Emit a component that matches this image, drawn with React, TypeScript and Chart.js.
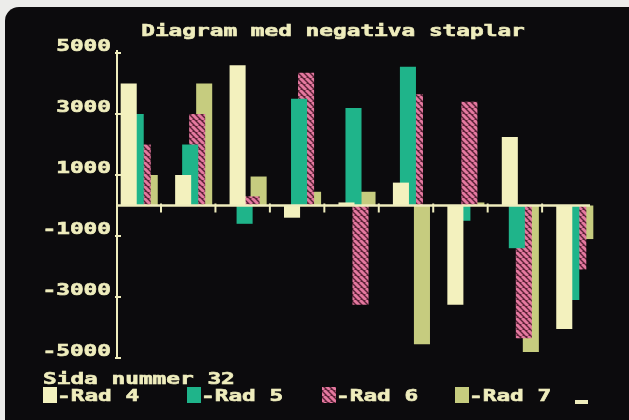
import { useEffect, useRef } from "react"
import { Chart, registerables } from "chart.js"

Chart.register(...registerables)

// data
const categories = ["1", "2", "3", "4", "5", "6", "7", "8", "9"]
const seriesNames = ["Rad 4", "Rad 5", "Rad 6", "Rad 7"]
const rad4 = [4000, 1000, 4600, -400, 100, 750, -3250, 2250, -4050]
const rad5 = [3000, 2000, -600, 3500, 3200, 4550, -500, -1400, -3100]
const rad6 = [2000, 3000, 300, 4350, -3250, 3650, 3400, -4350, -2100]
const rad7 = [1000, 4000, 950, 450, 450, -4550, 100, -4800, -1100]
const yMin = -5000
const yMax = 5000
const yStep = 2000

const titleText = "Diagram med negativa staplar"
const pageText = "Sida nummer 32"

const INK = "#efedbd"
const SCREEN = "#0c0b0d"
const FONT = "bold 16px 'DejaVu Sans Mono'"
const CHAR_W = 13.7
const LEGEND_X = [43, 187, 322, 455]

// wide CGA-like text: stretch a monospace font horizontally
function drawText(ctx: CanvasRenderingContext2D, text: string, x: number, y: number, align: "left" | "center" | "right") {
  ctx.save()
  ctx.font = FONT
  ctx.textAlign = "left"
  ctx.textBaseline = "alphabetic"
  const sx = CHAR_W / ctx.measureText("0").width
  const w = text.length * CHAR_W
  const left = align === "left" ? x : align === "center" ? x - w / 2 : x - w
  ctx.translate(left, y)
  ctx.scale(sx, 1)
  ctx.fillStyle = INK
  ctx.strokeStyle = INK
  ctx.lineWidth = 0.6
  ctx.fillText(text, 0, 0)
  ctx.strokeText(text, 0, 0)
  ctx.restore()
}

function makeHatch() {
  const c = document.createElement("canvas")
  c.width = 6
  c.height = 6
  const g = c.getContext("2d")!
  g.fillStyle = "#5a2236"
  g.fillRect(0, 0, 6, 6)
  g.strokeStyle = "#e4789f"
  g.lineWidth = 2.9
  for (const o of [-6, 0, 6]) {
    g.beginPath()
    g.moveTo(o, 0)
    g.lineTo(o + 6, 6)
    g.stroke()
  }
  return g.createPattern(c, "repeat")!
}

const screenPlugin = {
  id: "screen",
  beforeDraw(chart: Chart) {
    const { ctx, width, height } = chart
    ctx.save()
    ctx.fillStyle = "#ececea"
    ctx.fillRect(0, 0, width, height)
    ctx.fillStyle = SCREEN
    ctx.beginPath()
    ctx.roundRect(5, 7, width + 20, height + 20, 14)
    ctx.fill()
    ctx.restore()
  },
  afterDatasetsDraw(chart: Chart) {
    const { ctx, chartArea } = chart
    const x = chart.scales.x
    const y = chart.scales.y
    const axisX = chartArea.left + 5
    const zeroY = y.getPixelForValue(0)
    const pitch = x.getPixelForValue(1) - x.getPixelForValue(0)
    const last = categories.length - 1

    ctx.save()
    ctx.strokeStyle = INK
    ctx.fillStyle = INK

    // y axis
    ctx.lineWidth = 2
    ctx.beginPath()
    ctx.moveTo(axisX, y.top - 3)
    ctx.lineTo(axisX, y.bottom)
    ctx.stroke()

    // zero line with category marks
    ctx.lineWidth = 2.5
    ctx.beginPath()
    ctx.moveTo(axisX, zeroY)
    ctx.lineTo(x.getPixelForValue(last) + pitch * 0.28, zeroY)
    ctx.stroke()
    ctx.lineWidth = 2
    for (let i = 0; i < last; i++) {
      const tx = x.getPixelForValue(i) + pitch * 0.4
      ctx.beginPath()
      ctx.moveTo(tx, zeroY - 2)
      ctx.lineTo(tx, zeroY + 7)
      ctx.stroke()
    }

    // y ticks and labels
    y.ticks.forEach((t) => {
      const ty = y.getPixelForValue(t.value)
      ctx.beginPath()
      ctx.moveTo(axisX - 2, ty)
      ctx.lineTo(axisX + 4, ty)
      ctx.stroke()
      drawText(ctx, String(t.value), axisX - 6, ty - 2, "right")
    })

    // title
    drawText(ctx, titleText, 333, 36, "center")

    // footer + legend
    drawText(ctx, pageText, 43, 384, "left")
    chart.data.datasets.forEach((ds, i) => {
      const lx = LEGEND_X[i]
      ctx.fillStyle = ds.backgroundColor as any
      ctx.fillRect(lx, 387, 14, 16)
      drawText(ctx, "-" + ds.label, lx + 14, 401, "left")
    })
    ctx.fillStyle = INK
    ctx.fillRect(575, 400, 13, 4)
    ctx.restore()
  },
}

export default function App() {
  const chartRef = useRef<HTMLCanvasElement>(null)
  const chartInstance = useRef<Chart | null>(null)

  useEffect(() => {
    document.body.style.margin = "0"
    if (!chartRef.current) return
    if (chartInstance.current) chartInstance.current.destroy()

    const colors = ["#f3f1be", "#1fb48a", makeHatch(), "#c6cc7f"]
    const values = [rad4, rad5, rad6, rad7]

    chartInstance.current = new Chart(chartRef.current, {
      type: "bar",
      data: {
        labels: categories,
        datasets: seriesNames.map((name, i) => ({
          label: name,
          data: values[i],
          backgroundColor: colors[i],
          borderWidth: 0,
          categoryPercentage: 0.515,
          barPercentage: 2.29,
        })),
      },
      options: {
        responsive: false,
        animation: false,
        events: [],
        layout: { padding: { left: 112, right: 27, top: 53, bottom: 62 } },
        scales: {
          x: { display: false },
          y: { display: false, min: yMin, max: yMax, ticks: { stepSize: yStep } },
        },
        plugins: {
          legend: { display: false },
          title: { display: false },
          tooltip: { enabled: false },
        },
      },
      plugins: [screenPlugin],
    })

    return () => {
      if (chartInstance.current) {
        chartInstance.current.destroy()
        chartInstance.current = null
      }
    }
  }, [])

  return (
    <div style={{ width: 629, height: 420 }}>
      <canvas ref={chartRef} width={629} height={420} />
    </div>
  )
}
